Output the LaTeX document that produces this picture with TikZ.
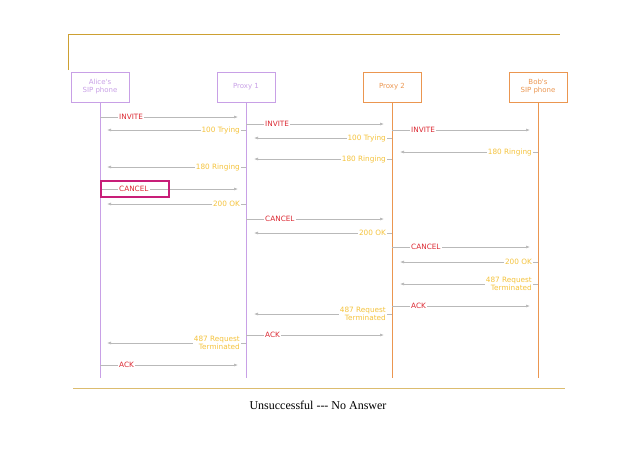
\documentclass[tikz,border=0pt]{standalone}
\usepackage{fontspec}
\setmainfont{Liberation Serif}
\newfontfamily\djsans{DejaVu Sans}
\usetikzlibrary{arrows.meta}
\definecolor{lil}{RGB}{200,160,230}
\definecolor{org}{RGB}{235,150,80}
\definecolor{gold}{RGB}{205,160,50}
\definecolor{req}{RGB}{220,40,50}
\definecolor{rsp}{RGB}{245,195,60}
\definecolor{ln}{RGB}{185,185,185}
\definecolor{mag}{RGB}{200,30,120}
\tikzset{
 x=1pt,y=-1pt,
 ent/.style={draw=#1,text=#1,minimum width=58pt,minimum height=30pt,align=center,font=\djsans\fontsize{7}{8}\selectfont,inner sep=1pt},
 life/.style={draw=#1,line width=0.6pt},
 msg/.style={draw=ln,line width=0.6pt,-{Latex[length=4pt,width=3pt]}},
 rq/.style={fill=white,text=req,inner sep=1pt,font=\djsans\fontsize{7.3}{8}\selectfont},
 rs/.style={fill=white,text=rsp,inner sep=1pt,font=\djsans\fontsize{7.3}{8}\selectfont,align=right},
}
\newcommand\reqm[4]{\coordinate (s) at (#1,#3); \coordinate (e) at (#2,#3);
 \draw[msg] (s) -- (e); \node[rq,anchor=west] at ([xshift=18pt]s) {#4};}
\newcommand\rspm[4]{\coordinate (s) at (#1,#3); \coordinate (e) at (#2,#3);
 \draw[msg] (s) -- (e); \node[rs,anchor=east] at ([xshift=-5pt]s) {#4};}
\begin{document}
\begin{tikzpicture}
\useasboundingbox (0,0) rectangle (638,451);
\draw[gold,line width=0.8pt] (68,70) -- (68,34) -- (560,34);
\draw[gold!70,line width=1pt] (73,388) -- (565,388);
\node[font=\fontsize{12}{14}\selectfont] (cap) at (318,405) {Unsuccessful {-}{-}{-} No Answer};
\node[ent=lil] (A) at (100,87) {Alice's\\SIP phone};
\node[ent=lil] (P1) at (246,87) {Proxy 1};
\node[ent=org] (P2) at (392,87) {Proxy 2};
\node[ent=org] (B) at (538,87) {Bob's\\SIP phone};
\coordinate (Ae) at (100,378); \coordinate (P1e) at (246,378);
\coordinate (P2e) at (392,378); \coordinate (Be) at (538,378);
\draw[life=lil] (A) -- (Ae);
\draw[life=lil] (P1) -- (P1e);
\draw[life=org] (P2) -- (P2e);
\draw[life=org] (B) -- (Be);
\reqm{100}{238}{117}{INVITE}
\rspm{246}{107}{130}{100 Trying}
\reqm{246}{384}{124}{INVITE}
\rspm{392}{254}{138}{100 Trying}
\reqm{392}{530}{130}{INVITE}
\rspm{538}{400}{152}{180 Ringing}
\rspm{392}{254}{159}{180 Ringing}
\rspm{246}{107}{167}{180 Ringing}
\reqm{100}{238}{189}{CANCEL}
\node[draw=mag,line width=1.2pt,minimum width=68pt,minimum height=16pt] (box) at (135,189) {};
\rspm{246}{107}{204}{200 OK}
\reqm{246}{384}{219}{CANCEL}
\rspm{392}{254}{233}{200 OK}
\reqm{392}{530}{247}{CANCEL}
\rspm{538}{400}{262}{200 OK}
\rspm{538}{400}{284}{487 Request\\Terminated}
\reqm{392}{530}{306}{ACK}
\rspm{392}{254}{314}{487 Request\\Terminated}
\reqm{246}{384}{335}{ACK}
\rspm{246}{107}{343}{487 Request\\Terminated}
\reqm{100}{238}{365}{ACK}
\end{tikzpicture}
\end{document}
